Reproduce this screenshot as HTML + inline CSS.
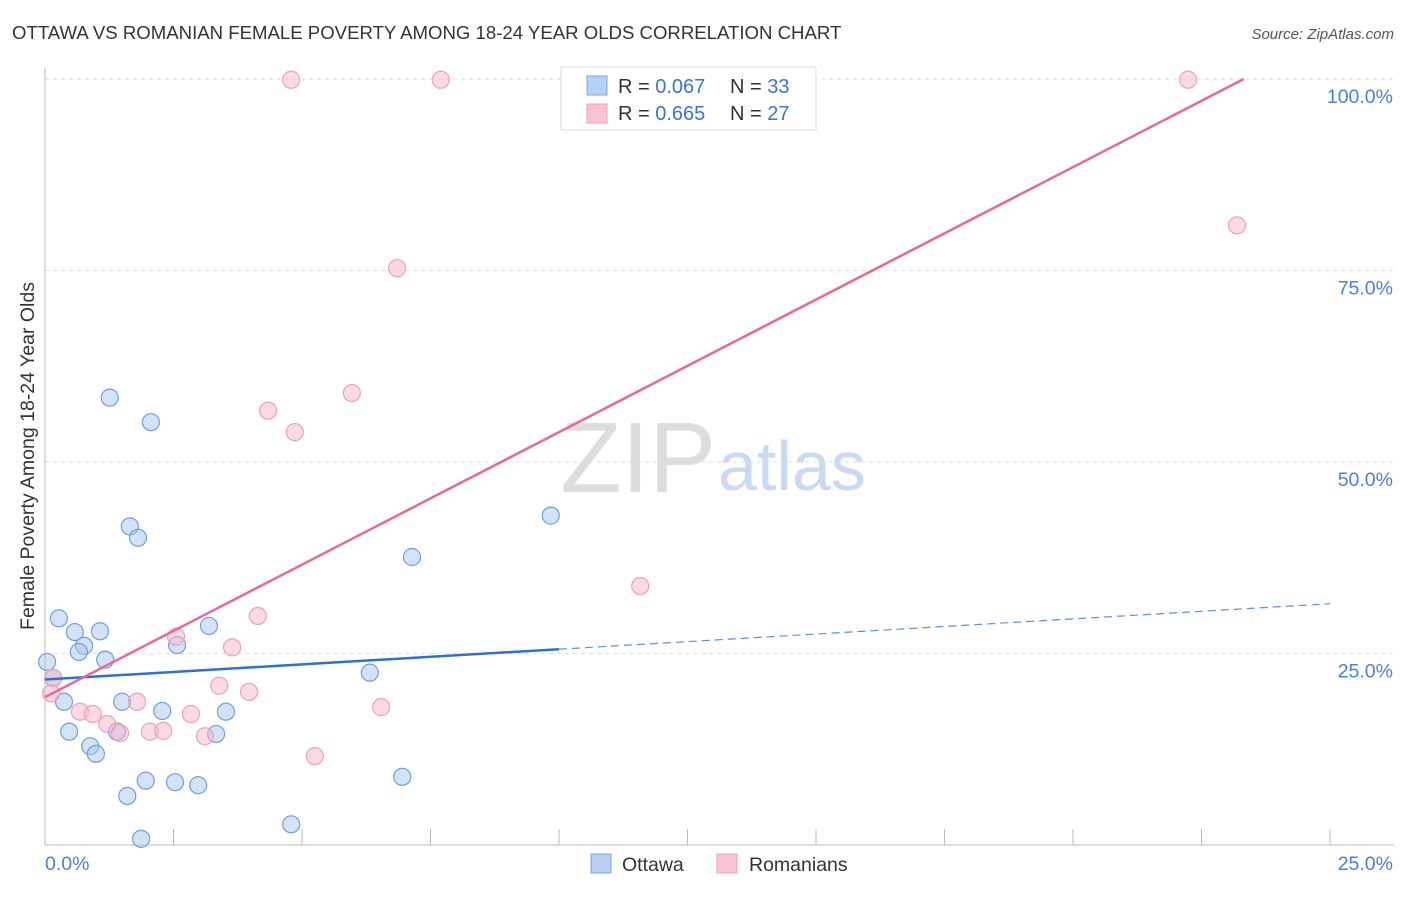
<!DOCTYPE html>
<html><head><meta charset="utf-8"><style>
body{margin:0;background:#fff;font-family:"Liberation Sans",sans-serif;}
svg text{font-family:"Liberation Sans",sans-serif;}
</style></head><body>
<svg id="chart" width="1406" height="892">
<text x="12" y="39" font-size="18.6" fill="#333">OTTAWA VS ROMANIAN FEMALE POVERTY AMONG 18-24 YEAR OLDS CORRELATION CHART</text>
<text x="1394" y="39" font-size="15" fill="#555" font-style="italic" text-anchor="end">Source: ZipAtlas.com</text>
<text transform="translate(34,456) rotate(-90)" font-size="19.5" fill="#333" text-anchor="middle">Female Poverty Among 18-24 Year Olds</text>
<text x="716" y="492" font-size="100" fill="#ddd" text-anchor="end" font-family="Liberation Serif">ZIP</text>
<text x="718" y="490" font-size="70" fill="#c9daf2">atlas</text>
<g id="grid"></g><g id="marks"></g>
<g>
<rect x="561" y="67" width="255" height="63" fill="#fff" stroke="#ddd"/>
<rect x="587" y="76" width="20" height="19" fill="#b7d1f3" stroke="#7aa6e4"/>
<rect x="587" y="104" width="20" height="19" fill="#f8c3d3" stroke="#eea0b8"/>
<text x="618" y="93" font-size="20" fill="#333">R = <tspan fill="#3a74d6">0.067</tspan></text>
<text x="730" y="93" font-size="20" fill="#333">N = <tspan fill="#3a74d6">33</tspan></text>
<text x="618" y="120" font-size="20" fill="#333">R = <tspan fill="#3a74d6">0.665</tspan></text>
<text x="730" y="120" font-size="20" fill="#333">N = <tspan fill="#3a74d6">27</tspan></text>
</g>
<g>
<rect x="591" y="854" width="20" height="19" fill="#b7d1f3" stroke="#7aa6e4"/>
<text x="622" y="871" font-size="19.5" fill="#333">Ottawa</text>
<rect x="717" y="854" width="20" height="19" fill="#f8c3d3" stroke="#eea0b8"/>
<text x="749" y="871" font-size="19.5" fill="#333">Romanians</text>
</g>
</svg>
<script>
const yTicks=[25,50,75,100];
const yTickLabels=["25.0%","50.0%","75.0%","100.0%"];
const xTickLabels=["0.0%","25.0%"];
const ottawaX=[0.04,0.16,0.27,0.58,0.76,0.66,1.07,1.17,0.37,0.47,0.88,0.99,1.40,1.50,1.26,2.06,1.65,1.81,2.57,3.19,2.28,1.96,1.60,2.53,2.98,3.33,3.52,4.79,1.87,6.32,7.14,6.95,9.84];
const ottawaY=[23.9,21.8,29.6,27.8,26.0,25.2,27.9,24.2,18.7,14.8,12.9,11.9,14.8,18.7,58.4,55.2,41.6,40.1,26.1,28.6,17.5,8.4,6.4,8.2,7.8,14.5,17.4,2.7,0.8,22.5,37.6,8.9,43.0];
const romX=[0.16,0.12,0.68,0.93,1.21,1.46,1.79,2.04,2.30,2.55,2.84,3.11,3.39,3.64,3.97,4.14,4.34,4.86,5.25,5.97,6.54,6.85,4.79,7.70,11.58,22.24,23.19];
const romY=[21.8,19.8,17.4,17.1,15.8,14.6,18.7,14.8,14.9,27.2,17.1,14.2,20.8,25.8,20.0,29.9,56.7,53.9,11.6,59.0,18.0,75.3,99.9,99.9,33.8,99.9,80.9];
const ottawaTrend=[21.6,0.396];
const romTrend=[19.3,3.46];
const NS="http://www.w3.org/2000/svg";
const sx=v=>45+v/25*1285, sy=v=>845-v/100*766;
function mk(t,a,p){const e=document.createElementNS(NS,t);for(const k in a)e.setAttribute(k,a[k]);p.appendChild(e);return e;}
const grid=document.getElementById('grid'),marks=document.getElementById('marks');
yTicks.forEach((t,i)=>{
 const l=mk('line',{x1:45,x2:1394,y1:sy(t),y2:sy(t),stroke:'#ddd','stroke-dasharray':'4,4'},grid);
 
 
 const tx=mk('text',{x:1393,y:sy(t)+24,'font-size':19.5,fill:'#4a80d8','text-anchor':'end'},grid);
 tx.textContent=yTickLabels[i];
 
 
});
const ax=mk('line',{x1:45,x2:45,y1:68,y2:845,stroke:'#bbb'},grid);


const bx=mk('line',{x1:45,x2:1394,y1:845,y2:845,stroke:'#bbb'},grid);


for(let i=1;i<=10;i++){
 const t=mk('line',{x1:sx(i*2.5),x2:sx(i*2.5),y1:829,y2:845,stroke:'#bbb'},grid);
 
 
}
[[0,'start',45],[1,'end',1393]].forEach(([i,a,x])=>{
 const t=mk('text',{x:x,y:870,'font-size':19.5,fill:'#4a80d8','text-anchor':a},grid);
 t.textContent=xTickLabels[i];
 
 
});
function dots(X,Y,fill,stroke,name){
 X.forEach((x,i)=>{
  const c=mk('circle',{cx:sx(x),cy:sy(Y[i]),r:8.5,fill:fill,'fill-opacity':0.5,stroke:stroke,'stroke-width':1.2},marks);
  
  
 });
}
dots(ottawaX,ottawaY,'#a9c6ee','#6f9fe0','ottawa-point');
dots(romX,romY,'#f6b6c9','#eea0b8','romanian-point');
const bl=mk('line',{x1:sx(0),y1:sy(ottawaTrend[0]),x2:sx(10),y2:sy(ottawaTrend[0]+ottawaTrend[1]*10),stroke:'#2f6fd6','stroke-width':2.5},marks);


const bd=mk('line',{x1:sx(10),y1:sy(ottawaTrend[0]+ottawaTrend[1]*10),x2:sx(25),y2:sy(ottawaTrend[0]+ottawaTrend[1]*25),stroke:'#5a8fe0','stroke-width':1.2,'stroke-dasharray':'8,5'},marks);


const xe=(100-romTrend[0])/romTrend[1];
const pl=mk('line',{x1:sx(0),y1:sy(romTrend[0]),x2:sx(xe),y2:sy(100),stroke:'#e8689a','stroke-width':2.5},marks);


</script>
</body></html>
